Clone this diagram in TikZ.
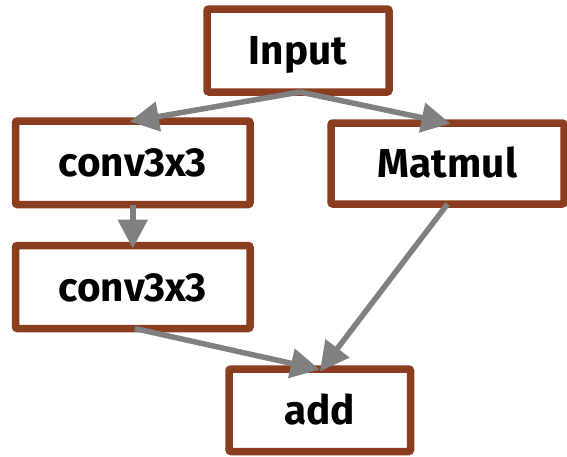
\documentclass[tikz,border=0pt]{standalone}
\usepackage{fontspec}
\setmainfont{Fira Sans}
\usetikzlibrary{arrows.meta,calc}
\definecolor{boxbrown}{RGB}{139,61,32}
\definecolor{arrowgray}{RGB}{128,128,128}
\tikzset{
  opbox/.style={draw=boxbrown, line width=7.5pt, rounded corners=2pt, fill=white,
    inner sep=0pt, outer sep=0pt, text height=28pt, text depth=0pt,
    font=\fontsize{40.5}{44}\selectfont\bfseries},
  flow/.style={draw=arrowgray, line width=5.5pt,
    -{Triangle[length=29pt,width=29pt]}, shorten >=-3pt}
}
\begin{document}
\begin{tikzpicture}[x=1pt,y=-1pt]
\useasboundingbox (0,0) rectangle (567,456);
\node[opbox, minimum width=182pt, minimum height=83pt] (inp) at (298,50.5) {Input};
\node[opbox, minimum width=234.5pt, minimum height=83.5pt] (c1) at (132.75,162.75) {conv3x3};
\node[opbox, minimum width=233pt, minimum height=81pt] (mm) at (447.5,163.5) {Matmul};
\node[opbox, minimum width=234.5pt, minimum height=83pt] (c2) at (132.75,287) {conv3x3};
\node[opbox, minimum width=181.5pt, minimum height=82.5pt] (add) at (319.75,410.25) {add};
\coordinate (s0) at ($(inp.south)+(2,0)$);
\draw[flow] (s0) -- (c1.north);
\draw[flow] (s0) -- ([xshift=0pt]mm.north);
\draw[flow] (c1.south) -- (c2.north);
\draw[flow] ([xshift=2pt]c2.south) -- ([xshift=-3pt]add.north);
\draw[flow] (mm.south) -- ([xshift=2pt]add.north);
\end{tikzpicture}
\end{document}
